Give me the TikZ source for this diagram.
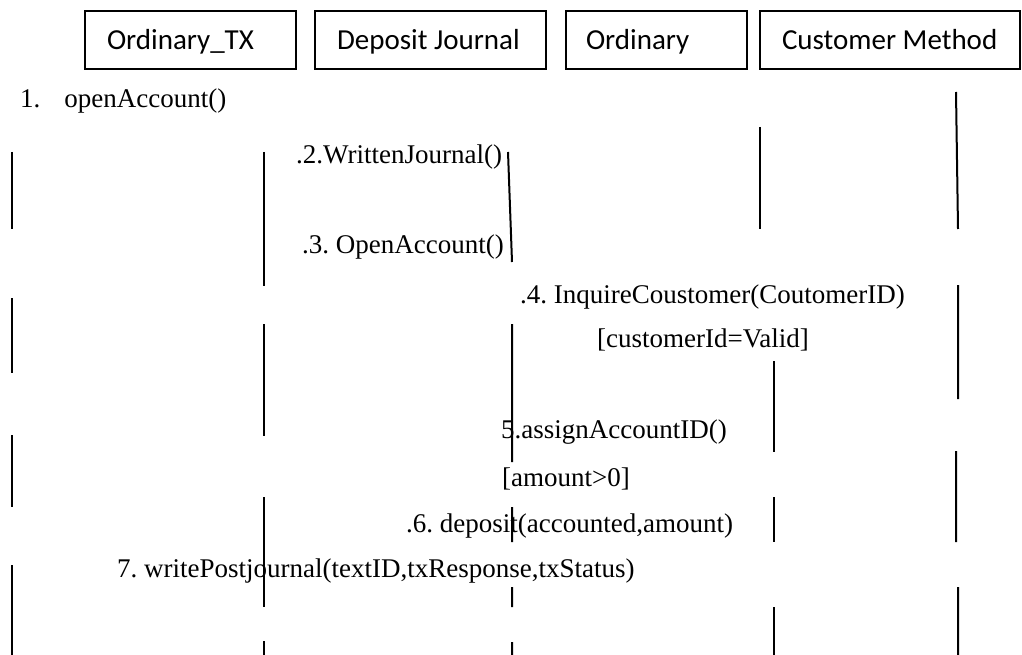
\documentclass[tikz,border=0pt]{standalone}
\usepackage{fontspec}
\setmainfont{Liberation Serif}
\newfontfamily\boxfont{Carlito}
\frenchspacing
\begin{document}
\begin{tikzpicture}[x=1pt,y=-1pt,
  lifebox/.style={draw,line width=1.6pt,minimum height=58pt,inner sep=0pt,text height=19pt,text depth=0pt,font=\boxfont\fontsize{29}{32}\selectfont},
  msg/.style={anchor=west,inner sep=0pt,font=\fontsize{27}{30}\selectfont},
  seg/.style={line width=2pt}]
\useasboundingbox (0,0) rectangle (1022,655);
% lifeline heads
\node[lifebox] (b1) at (190.5,40) {\makebox[211pt][l]{\hspace{22pt}Ordinary\_TX}};
\node[lifebox] (b2) at (430.5,40) {\makebox[231pt][l]{\hspace{22pt}Deposit Journal}};
\node[lifebox] (b3) at (656.5,40) {\makebox[181pt][l]{\hspace{20pt}Ordinary}};
\node[lifebox] (b4) at (890,40) {\makebox[260pt][l]{\hspace{22pt}Customer Method}};
% messages
\node[msg] (m1) at (20,101) {1.\hspace{24pt}openAccount()};
\node[msg] (m2) at (296,157) {.2.WrittenJournal()};
\node[msg] (m3) at (302,247) {.3. OpenAccount()};
\node[msg] (m4) at (520,297) {.4. InquireCoustomer(CoutomerID)};
\node[msg] (g1) at (597,340) {[customerId=Valid]};
\node[msg] (m5) at (501,432) {5.assignAccountID()};
\node[msg] (g2) at (502,479) {[amount>0]};
\node[msg] (m6) at (406,526) {.6. deposit(accounted,amount)};
\node[msg] (m7) at (117,571) {7. writePostjournal(textID,txResponse,txStatus)};
% lifeline fragments
\draw[seg] (12,152) -- (12,229) (12,298) -- (12,373) (12,435) -- (12,507) (12,565) -- (12,655);
\draw[seg] (264,152) -- (264,286) (264,324) -- (264,436) (264,497) -- (264,607) (264,641) -- (264,655);
\draw[seg] (508,152) -- (512,262) (512,324) -- (512,462) (512,507) -- (512,542) (512,587) -- (512,607) (512,642) -- (512,655);
\draw[seg] (760,127) -- (760,229) (774,361) -- (774,452) (774,497) -- (774,542) (774,607) -- (774,655);
\draw[seg] (956,92) -- (958,229) (958,285) -- (958,399) (956,451) -- (956,542) (958,587) -- (958,655);
\end{tikzpicture}
\end{document}
